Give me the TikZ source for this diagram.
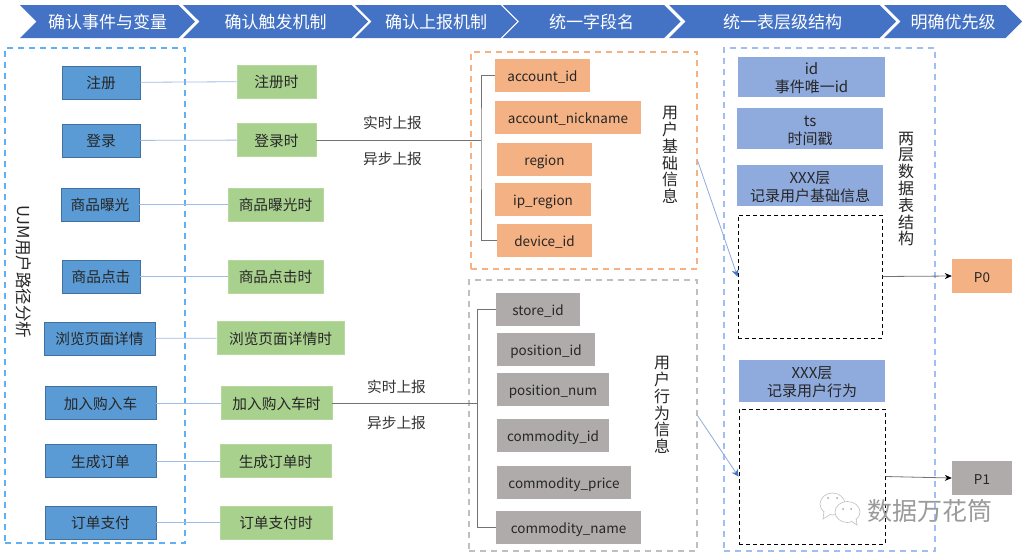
\documentclass[tikz,border=0pt]{standalone}
\usepackage{fontspec}
\setmainfont{Noto Sans CJK SC}
\usetikzlibrary{arrows,arrows.meta,positioning,shapes.symbols}
\definecolor{headblue}{HTML}{4472C4}
\definecolor{eventblue}{HTML}{5B9BD5}
\definecolor{eventedge}{HTML}{41719C}
\definecolor{trigreen}{HTML}{A9D18E}
\definecolor{fieldorange}{HTML}{F4B183}
\definecolor{fieldgray}{HTML}{AFABAB}
\definecolor{layerblue}{HTML}{8FAADC}
\definecolor{linkblue}{HTML}{A3BCE6}
\definecolor{ujmdash}{HTML}{5FB0F5}
\definecolor{tabledash}{HTML}{A0BEF2}
\definecolor{markgray}{HTML}{9A9A9A}
\begin{document}
\begin{tikzpicture}[x=1pt,y=-1pt,>=stealth',
		main node/.style={rectangle,inner sep=0pt,minimum height=33pt,text height=13pt,text depth=1pt,font=\fontsize{14.7}{17}\selectfont,text=black!85},
		head node/.style={signal,signal to=east,signal from=west,signal pointer angle=90,fill=headblue,draw=none,inner sep=0pt,minimum height=33pt,text height=15pt,text depth=1pt,text=white,font=\fontsize{17}{20}\selectfont},
		event node/.style={main node,fill=eventblue,draw=eventedge,line width=.8pt},
		trigger node/.style={main node,fill=trigreen,draw=trigreen!85!white,line width=.8pt},
		orange node/.style={main node,fill=fieldorange,font=\fontsize{13.5}{17}\selectfont},
		gray node/.style={main node,fill=fieldgray,font=\fontsize{13.5}{17}\selectfont},
		layer node/.style={rectangle,inner sep=0pt,fill=layerblue,align=center,text height=33pt,text depth=2pt,text=black!85,font=\fontsize{15}{18}\selectfont},
		hole node/.style={rectangle,inner sep=0pt,draw=black,line width=1pt,dash pattern=on 4pt off 3pt},
		group node/.style={rectangle,inner sep=0pt,line width=1.1pt,dash pattern=on 6pt off 5pt},
		text node/.style={inner sep=0pt,text height=13pt,text depth=1pt,font=\fontsize{14.7}{17}\selectfont,text=black!80},
		stack node/.style={inner sep=0pt,align=center,font=\fontsize{16}{16.8}\selectfont,text=black!85},
		link/.style={draw=linkblue,line width=.8pt},
		bus/.style={draw=black!55,line width=.9pt},
		blue arrow/.style={draw=layerblue,line width=.8pt,-{Stealth[length=7pt,width=7pt,color=headblue]}},
		black arrow/.style={draw=black!55,line width=.8pt,-{Stealth[length=7pt,width=6pt,color=black]}}]
		
		\useasboundingbox (0,0) rectangle (1025,555);
		
		% steps along the top
		\node[head node,minimum width=175pt] (s1) at (107.5,21.5) {确认事件与变量};
		\node[head node,minimum width=185pt] (s2) at (275.5,21.5) {确认触发机制};
		\node[head node,minimum width=162pt] (s3) at (436,21.5) {确认上报机制};
		\node[head node,minimum width=178pt] (s4) at (591.5,21.5) {统一字段名};
		\node[head node,minimum width=227pt] (s5) at (782.5,21.5) {统一表层级结构};
		\node[head node,minimum width=138pt] (s6) at (953,21.5) {明确优先级};
		
		% dashed groups
		\node[group node,draw=ujmdash,minimum width=180pt,minimum height=495pt] (ujm) at (95,295.5) {};
		\node[group node,draw=fieldorange,minimum width=226pt,minimum height=217pt] (base) at (584,160.5) {};
		\node[group node,draw=black!25,minimum width=228pt,minimum height=271pt] (act) at (583,415.5) {};
		\node[group node,draw=tabledash,minimum width=211pt,minimum height=503pt] (table) at (829.5,299.5) {};
		
		\node[rotate=-90,inner sep=0pt,font=\fontsize{16.5}{17}\selectfont,text=black!85] (ujmtext) at (24,272) {UJM用户路径分析};
		\node[stack node] (basetext) at (670,155) {用\\户\\基\\础\\信\\息};
		\node[stack node] (acttext) at (662,405) {用\\户\\行\\为\\信\\息};
		\node[stack node] (tabletext) at (906,189) {两\\层\\数\\据\\表\\结\\构};
		
		% events
		\node[event node,minimum width=78pt] (e1) at (101,82.5) {注册};
		\node[event node,minimum width=78pt] (e2) at (101,140.5) {登录};
		\node[event node,minimum width=78pt] (e3) at (100,204.5) {商品曝光};
		\node[event node,minimum width=78pt] (e4) at (101,276.5) {商品点击};
		\node[event node,minimum width=111pt] (e5) at (99.5,338.5) {浏览页面详情};
		\node[event node,minimum width=111pt] (e6) at (100.5,403) {加入购入车};
		\node[event node,minimum width=111pt] (e7) at (100.5,461) {生成订单};
		\node[event node,minimum width=111pt] (e8) at (100.5,522.5) {订单支付};
		
		% triggers
		\node[trigger node,minimum width=79pt] (t1) at (276.5,81.5) {注册时};
		\node[trigger node,minimum width=79pt] (t2) at (276.5,140) {登录时};
		\node[trigger node,minimum width=95pt] (t3) at (275.5,204.5) {商品曝光时};
		\node[trigger node,minimum width=95pt] (t4) at (275.5,276.5) {商品点击时};
		\node[trigger node,minimum width=127pt] (t5) at (280.5,338) {浏览页面详情时};
		\node[trigger node,minimum width=111pt] (t6) at (276.5,403) {加入购入车时};
		\node[trigger node,minimum width=111pt] (t7) at (275.5,461) {生成订单时};
		\node[trigger node,minimum width=112pt] (t8) at (276,522.5) {订单支付时};
		
		% fields
		\node[orange node,minimum width=95pt] (f1) at (542.5,75.5) {account\_id};
		\node[orange node,minimum width=146pt] (f2) at (568,117.5) {account\_nickname};
		\node[orange node,minimum width=95pt] (f3) at (544.5,159.5) {region};
		\node[orange node,minimum width=96pt] (f4) at (543,199.5) {ip\_region};
		\node[orange node,minimum width=95pt] (f5) at (544.5,240) {device\_id};
		
		\node[gray node,minimum width=84pt] (g1) at (538,309.5) {store\_id};
		\node[gray node,minimum width=98pt] (g2) at (546,349.5) {position\_id};
		\node[gray node,minimum width=112pt] (g3) at (553,389.5) {position\_num};
		\node[gray node,minimum width=112pt] (g4) at (553,435.5) {commodity\_id};
		\node[gray node,minimum width=134pt] (g5) at (564,482.5) {commodity\_price};
		\node[gray node,minimum width=145pt] (g6) at (568.5,527.5) {commodity\_name};
		
		% table layers
		\node[layer node,minimum width=147pt,minimum height=40pt] (l1) at (811.5,77) {id\\事件唯一id};
		\node[layer node,minimum width=146pt,minimum height=41pt] (l2) at (810,128.5) {ts\\时间戳};
		\node[layer node,minimum width=146pt,minimum height=41pt] (l3) at (810,185.5) {XXX层\\记录用户基础信息};
		\node[hole node,minimum width=144pt,minimum height=123pt] (h1) at (810,276.5) {};
		\node[layer node,minimum width=146pt,minimum height=42pt] (l4) at (812,381) {XXX层\\记录用户行为};
		\node[hole node,minimum width=146pt,minimum height=135pt] (h2) at (812,476.5) {};
		
		\node[orange node,minimum width=60pt,minimum height=34pt] (p0) at (982,276) {P0};
		\node[gray node,minimum width=60pt,minimum height=34pt] (p1) at (982,478) {P1};
		
		% bus lines
		\coordinate (busa) at (481,140);
		\coordinate (busb) at (477.5,403);
		
		\node[text node] (r1) at (392.5,122) {实时上报};
		\node[text node] (r2) at (392.5,158) {异步上报};
		\node[text node] (r3) at (396.5,386) {实时上报};
		\node[text node] (r4) at (396.5,422) {异步上报};
		
		\path[link]
			(e1) edge (t1)
			(e2) edge (t2)
			(e3) edge (t3)
			(e4) edge (t4)
			(e5) edge (t5)
			(e6) edge (t6)
			(e7) edge (t7)
			(e8) edge (t8);
		
		\draw[bus] (t2.east) -- (busa);
		\draw[bus] (f1.west) -| (busa) |- (f5.west);
		\draw[bus] (t6.east) -- (busb);
		\draw[bus] (g1.west) -| (busb) |- (g6.west);
		
		\draw[blue arrow] (base.east) -- (h1.west);
		\draw[blue arrow] (act.east) -- (h2.west);
		\draw[black arrow] (h1.east) -- (p0.west);
		\draw[black arrow] (h2.east) -- (p1.west);
		
		% watermark
		\draw[black!25,fill=white,line width=.6pt] (832.5,504) ellipse (12.5pt and 11pt);
		\draw[black!25,fill=white,line width=.6pt] (824,511) -- (823,519) -- (831,514);
		\draw[black!25,fill=white,line width=.6pt] (847.5,512) ellipse (12.5pt and 10.5pt);
		\draw[black!25,fill=white,line width=.6pt] (851,521) -- (857,525) -- (856,518);
		\fill[black!35] (828,498) circle (1pt) (837,498) circle (1pt) (843,509) circle (1pt) (851,509) circle (1pt);
		\node[inner sep=0pt,font=\fontsize{25}{28}\selectfont,text=markgray] (mark) at (930,510.5) {数据万花筒};
		
\end{tikzpicture}
\end{document}
